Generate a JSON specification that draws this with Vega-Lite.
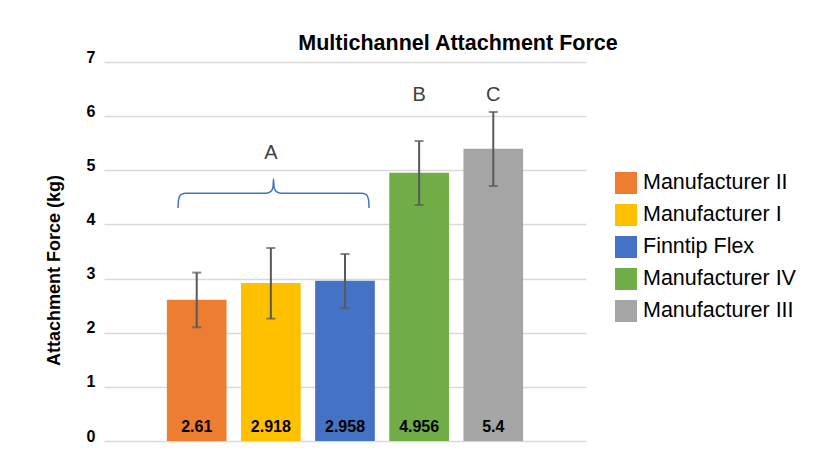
{
  "$schema": "https://vega.github.io/schema/vega-lite/v6.json",
  "width": 482,
  "height": 379,
  "autosize": {"type": "none"},
  "padding": {"left": 104, "top": 62, "right": 241, "bottom": 13},
  "background": "white",
  "config": {"font": "Liberation Sans", "view": {"stroke": null}},
  "title": {
    "text": "Multichannel Attachment Force",
    "fontSize": 21.5,
    "fontWeight": "bold",
    "color": "black",
    "anchor": "middle",
    "frame": "group",
    "dx": 113,
    "dy": 22,
    "offset": 0,
    "baseline": "alphabetic"
  },
  "datasets": {
    "bars": [
      {"product": "Manufacturer II", "force": 2.61, "low": 2.1, "high": 3.11},
      {"product": "Manufacturer I", "force": 2.918, "low": 2.26, "high": 3.565},
      {"product": "Finntip Flex", "force": 2.958, "low": 2.457, "high": 3.454},
      {"product": "Manufacturer IV", "force": 4.956, "low": 4.36, "high": 5.54},
      {"product": "Manufacturer III", "force": 5.4, "low": 4.71, "high": 6.077}
    ],
    "letters": [
      {"product": "Manufacturer I", "pos": 5.315, "letter": "A"},
      {"product": "Manufacturer IV", "pos": 6.39, "letter": "B"},
      {"product": "Manufacturer III", "pos": 6.39, "letter": "C"}
    ],
    "brace": [
      {"bx": 0.998, "by": 4.304},
      {"bx": 1.005, "by": 4.452},
      {"bx": 1.032, "by": 4.544},
      {"bx": 1.093, "by": 4.575},
      {"bx": 2.185, "by": 4.575},
      {"bx": 2.252, "by": 4.609},
      {"bx": 2.279, "by": 4.692},
      {"bx": 2.286, "by": 4.839},
      {"bx": 2.293, "by": 4.692},
      {"bx": 2.32, "by": 4.609},
      {"bx": 2.387, "by": 4.575},
      {"bx": 3.48, "by": 4.575},
      {"bx": 3.541, "by": 4.544},
      {"bx": 3.568, "by": 4.452},
      {"bx": 3.574, "by": 4.304}
    ]
  },
  "layer": [
    {
      "encoding": {
        "x": {
          "field": "product",
          "type": "nominal",
          "sort": null,
          "scale": {
            "domain": ["Manufacturer II", "Manufacturer I", "Finntip Flex", "Manufacturer IV", "Manufacturer III"],
            "paddingInner": 0.195,
            "paddingOuter": 0.848
          },
          "axis": null
        }
      },
      "layer": [
        {
          "data": {"name": "bars"},
          "mark": {"type": "bar"},
          "encoding": {
            "y": {
              "field": "force",
              "type": "quantitative",
              "scale": {"domain": [0, 7], "nice": false},
              "axis": {
                "title": "Attachment Force (kg)",
                "values": [0, 1, 2, 3, 4, 5, 6, 7],
                "format": "d",
                "grid": true,
                "gridColor": "#D9D9D9",
                "gridWidth": 1.5,
                "domain": false,
                "ticks": false,
                "labelFontSize": 16,
                "labelFontWeight": "bold",
                "labelColor": "black",
                "labelPadding": 9,
                "labelBaseline": "alphabetic",
                "titleFontSize": 18,
                "titleFontWeight": "bold",
                "titleColor": "black",
                "titleX": -50,
                "titleY": 208,
                "titleAngle": 270,
                "titleAlign": "center",
                "titleBaseline": "middle"
              }
            },
            "color": {
              "field": "product",
              "type": "nominal",
              "sort": null,
              "scale": {
                "domain": ["Manufacturer II", "Manufacturer I", "Finntip Flex", "Manufacturer IV", "Manufacturer III"],
                "range": ["#ED7D31", "#FFC000", "#4472C4", "#70AD47", "#A5A5A5"]
              },
              "legend": {
                "title": null,
                "orient": "none",
                "legendX": 511,
                "legendY": 110,
                "padding": 0,
                "symbolType": "square",
                "symbolSize": 484,
                "symbolStrokeWidth": 0,
                "labelFontSize": 21.5,
                "labelColor": "black",
                "labelOffset": 6,
                "rowPadding": 10,
                "labelLimit": 300
              }
            }
          }
        },
        {
          "data": {"name": "bars"},
          "mark": {"type": "rule", "color": "#595959", "strokeWidth": 2},
          "encoding": {
            "y": {"field": "low", "type": "quantitative"},
            "y2": {"field": "high"}
          }
        },
        {
          "data": {"name": "bars"},
          "mark": {"type": "tick", "color": "#595959", "size": 9, "thickness": 2},
          "encoding": {"y": {"field": "low", "type": "quantitative"}}
        },
        {
          "data": {"name": "bars"},
          "mark": {"type": "tick", "color": "#595959", "size": 9, "thickness": 2},
          "encoding": {"y": {"field": "high", "type": "quantitative"}}
        },
        {
          "data": {"name": "bars"},
          "mark": {"type": "text", "fontSize": 16, "fontWeight": "bold", "color": "black", "baseline": "alphabetic", "dy": -9},
          "encoding": {
            "y": {"datum": 0, "type": "quantitative"},
            "text": {"field": "force", "type": "nominal"}
          }
        },
        {
          "data": {"name": "letters"},
          "mark": {"type": "text", "fontSize": 20, "color": "#404040", "baseline": "middle"},
          "encoding": {
            "y": {"field": "pos", "type": "quantitative"},
            "text": {"field": "letter", "type": "nominal"}
          }
        }
      ]
    },
    {
      "data": {"name": "brace"},
      "mark": {"type": "line", "color": "#4472C4", "strokeWidth": 1.5, "interpolate": "monotone"},
      "encoding": {
        "x": {"field": "bx", "type": "quantitative", "scale": {"domain": [0, 6.5], "nice": false, "zero": false}, "axis": null},
        "y": {"field": "by", "type": "quantitative"}
      }
    }
  ],
  "resolve": {"scale": {"x": "independent"}}
}
